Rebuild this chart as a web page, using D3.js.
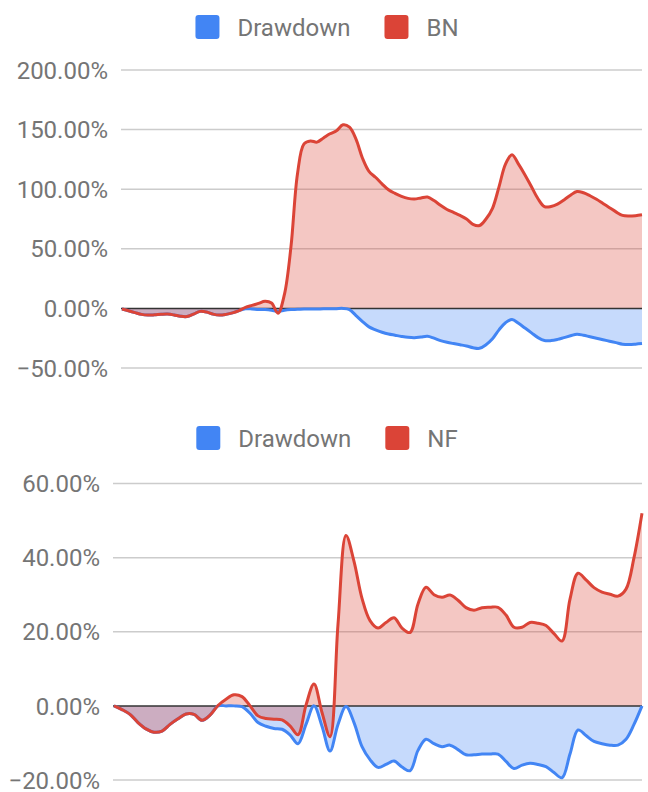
<!DOCTYPE html>
<html>
<head>
<meta charset="utf-8">
<script src="https://cdn.jsdelivr.net/npm/d3@7/dist/d3.min.js"></script>
<style>
  html, body { margin: 0; padding: 0; background: #fff; }
  svg { display: block; font-family: Roboto, Arial, sans-serif; }
</style>
</head>
<body>
<svg id="canvas" width="648" height="792"></svg>
<script>
// series names
const seriesNames = ['Drawdown', 'BN', 'NF'];

// BN chart: cumulative return and drawdown, in percent
const bnValues = [
  -0.5, -2, -3.5, -5, -5.6, -5.4, -5, -4.8, -5.5, -6.6,
  -6.8, -4.8, -2.5, -3, -4.8, -5.6, -5, -3.8, -1.8, 0.8,
  2.5, 4.2, 6, 4.5, -4, 12, 52, 113, 138, 140.5,
  139.5, 143, 146.5, 149, 154, 152, 142, 126, 115, 110,
  104.5, 99.5, 96.5, 94, 92.3, 91.8, 92.7, 93.4, 90.5, 86.5,
  83, 80.5, 78, 75, 70.5, 69.5, 75, 84, 102, 121,
  129, 121, 112, 102, 92, 85.3, 85.5, 87.5, 91, 95,
  98, 97, 94.5, 91.5, 88, 84.5, 81, 78, 77.5, 77.8,
  78.5
];
const bnDrawdown = [
  -0.5, -2, -3.5, -5, -5.6, -5.4, -5, -4.8, -5.5, -6.6,
  -6.8, -4.8, -2.5, -3, -4.8, -5.6, -5, -3.8, -1.8, -0.3,
  -0.5, -1, -1, -1.5, -2.5, -1.5, -1, -0.8, -0.5, -0.5,
  -0.5, -0.3, -0.3, -0.2, 0, -1, -6, -11, -15.5, -18,
  -20, -21.5, -22.5, -23.5, -24.3, -24.6, -24, -23.4, -25, -27,
  -28.4, -29.5, -30.5, -31.5, -33, -33.5, -30.5, -25.5, -18, -12,
  -9.3, -12.5, -16.5, -20.5, -24.5, -27, -27, -26, -24.5, -23,
  -21.6, -22.5, -23.8, -25, -26.3, -27.5, -28.7, -30, -30.3, -30,
  -29.5
];
const bnTicks = [-50, 0, 50, 100, 150, 200];

// NF chart: cumulative return and drawdown, in percent
const nfValues = [
  0, -1, -2.3, -4.5, -6.2, -7.1, -6.8, -5, -3.5, -2.2,
  -2.3, -3.9, -2.5, 0.1, 1.8, 3, 2.5, 0, -2.7, -3.4,
  -3.6, -3.8, -5.4, -7.8, 0.2, 5.9, -1.8, -8.3, 22, 46,
  39, 29, 23, 21, 22.5, 23.8, 21, 19.8, 27.5, 32,
  30, 29.3, 29.9, 28.5, 26.5, 25.8, 26.5, 26.6, 26.6, 24.5,
  21.2, 21.2, 22.5, 22.3, 21.7, 19.5, 17.5, 28.8, 35.8, 34,
  31.9, 30.7, 30.1, 29.6, 31.5, 40, 52
];
const nfDrawdown = [
  0, -1, -2.3, -4.5, -6.2, -7.1, -6.8, -5, -3.5, -2.2,
  -2.3, -3.9, -2.5, 0, 0, 0, -0.2, -2, -4.5, -5.5,
  -6.1, -6.3, -7.8, -10.2, -5, 0, -5.5, -12.2, -5, -0.2,
  -4.5, -11, -14.5, -16.6, -15.8, -14.9, -16.5, -17.5, -12, -9,
  -10.2, -11, -10.6, -11.8, -13.2, -13.2, -13, -13, -13, -15,
  -16.9, -16, -15.5, -15.8, -16.4, -18, -19.4, -13, -6.5, -8,
  -9.6, -10.2, -10.6, -10.6, -9, -5, 0
];
const nfTicks = [-20, 0, 20, 40, 60];

const colors = { drawdown: '#4285f4', value: '#db4437' };

let canvas = d3.select('#canvas');

const drawChart = (cfg) => {
  let g = canvas.append('g');

  let x = d3.scaleLinear()
    .domain([0, cfg.values.length - 1])
    .range([cfg.left, cfg.right]);

  let y = d3.scaleLinear()
    .domain([d3.min(cfg.ticks), d3.max(cfg.ticks)])
    .range([cfg.bottom, cfg.top]);

  // gridlines
  g.selectAll('line.grid')
    .data(cfg.ticks.filter(t => t !== 0))
    .enter()
    .append('line')
    .attr('class', 'grid')
    .attr('x1', cfg.left - 1)
    .attr('x2', cfg.right)
    .attr('y1', d => y(d))
    .attr('y2', d => y(d))
    .attr('stroke', '#cccccc')
    .attr('stroke-width', 1.5);

  // tick labels
  g.selectAll('text.tick')
    .data(cfg.ticks)
    .enter()
    .append('text')
    .attr('class', 'tick')
    .attr('x', cfg.labelX)
    .attr('y', d => y(d))
    .attr('dy', '0.36em')
    .attr('text-anchor', 'end')
    .attr('fill', '#757575')
    .style('font-size', '24px')
    .text(d => d3.format('.2f')(d) + '%');

  let curve = d3.curveCatmullRom.alpha(0.5);

  let area = d3.area()
    .x((d, i) => x(i))
    .y0(y(0))
    .y1(d => y(d))
    .curve(curve);

  let line = d3.line()
    .x((d, i) => x(i))
    .y(d => y(d))
    .curve(curve);

  let series = [
    { data: cfg.drawdown, color: colors.drawdown },
    { data: cfg.values, color: colors.value }
  ];

  series.forEach(s => {
    g.append('path')
      .datum(s.data)
      .attr('d', area)
      .attr('fill', s.color)
      .attr('fill-opacity', 0.3);
  });

  // zero baseline
  g.append('line')
    .attr('x1', cfg.left - 1)
    .attr('x2', cfg.right)
    .attr('y1', y(0))
    .attr('y2', y(0))
    .attr('stroke', '#333333')
    .attr('stroke-width', 1.5);

  series.forEach(s => {
    g.append('path')
      .datum(s.data)
      .attr('d', line)
      .attr('fill', 'none')
      .attr('stroke', s.color)
      .attr('stroke-width', 3)
      .attr('stroke-linejoin', 'round');
  });

  // legend
  let legend = g.append('g');
  let items = [
    { name: seriesNames[0], color: colors.drawdown },
    { name: cfg.name, color: colors.value }
  ];
  let pos = 0;
  items.forEach(item => {
    legend.append('rect')
      .attr('x', pos)
      .attr('y', cfg.legendY - 12)
      .attr('width', 24)
      .attr('height', 24)
      .attr('rx', 3)
      .attr('fill', item.color);
    let t = legend.append('text')
      .attr('x', pos + 42)
      .attr('y', cfg.legendY)
      .attr('dy', '0.36em')
      .attr('fill', '#757575')
      .style('font-size', '24px')
      .text(item.name);
    pos += 42 + t.node().getComputedTextLength() + 34;
  });
  let legendWidth = pos - 34;
  legend.attr('transform', 'translate(' + (327 - legendWidth / 2) + ',0)');
};

drawChart({
  name: seriesNames[1],
  values: bnValues,
  drawdown: bnDrawdown,
  ticks: bnTicks,
  left: 122, right: 642,
  top: 70, bottom: 368,
  labelX: 108,
  legendY: 27
});

drawChart({
  name: seriesNames[2],
  values: nfValues,
  drawdown: nfDrawdown,
  ticks: nfTicks,
  left: 114, right: 642,
  top: 483.5, bottom: 780,
  labelX: 100,
  legendY: 438
});
</script>
</body>
</html>
